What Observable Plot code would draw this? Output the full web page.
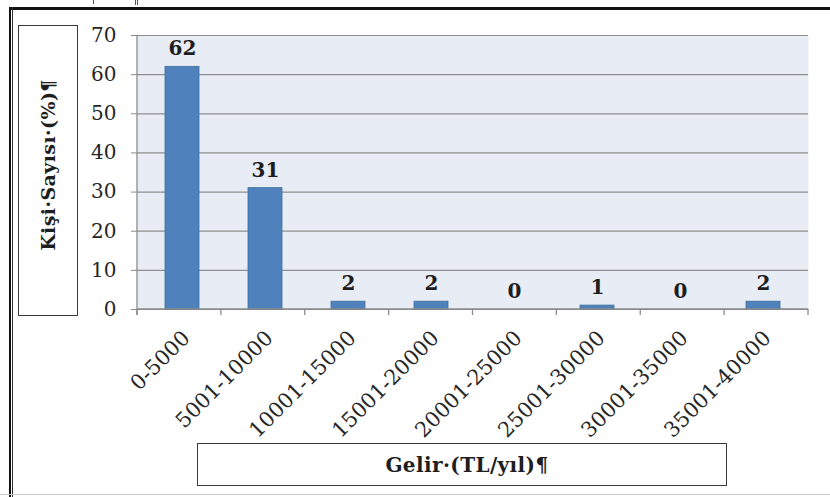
<!DOCTYPE html>
<html><head><meta charset="utf-8">
<script src="https://cdn.jsdelivr.net/npm/d3@7"></script>
<script src="https://cdn.jsdelivr.net/npm/@observablehq/plot@0.6"></script>
<style>
body{margin:0;background:#fff;}
#wrap{position:relative;width:830px;height:497px;overflow:hidden;font-family:"DejaVu Serif",serif;color:#1e1e1e;}
#wrap svg{position:absolute;left:0;top:0;}
.deco{position:absolute;}
.tbox{position:absolute;border:1.3px solid #3a3a3a;box-sizing:border-box;background:#fff;}
.ttext{position:absolute;white-space:nowrap;font-weight:bold;font-size:20px;letter-spacing:0.4px;}
</style></head>
<body><div id="wrap"></div>
<script>
const categories = ["0-5000","5001-10000","10001-15000","15001-20000","20001-25000","25001-30000","30001-35000","35001-40000"];
const values = [62,31,2,2,0,1,0,2];
const yTicks = [0,10,20,30,40,50,60,70];
const yTitle = "Kişi·Sayısı·(%)¶";
const xTitle = "Gelir·(TL/yıl)¶";

const data = categories.map((c,i)=>({cat:c,value:values[i]}));
const axisColor = "#8a8a8a";

function boundaryAxis(index, scales, vals, dims){
  const g = d3.create("svg:g").attr("stroke", axisColor).attr("stroke-width", 1.3).attr("fill","none");
  const left = dims.marginLeft, right = dims.width - dims.marginRight;
  const step = (right-left)/categories.length;
  const y0 = scales.y(0), yTop = scales.y(70);
  g.append("line").attr("x1",left).attr("x2",left).attr("y1",yTop).attr("y2",y0+6);
  g.append("line").attr("x1",left).attr("x2",right).attr("y1",y0).attr("y2",y0);
  for(let k=0;k<=categories.length;k++){
    const x = left + k*step;
    g.append("line").attr("x1",x).attr("x2",x).attr("y1",y0).attr("y2",y0+6);
  }
  return g.node();
}

const chart = Plot.plot({
  width:830, height:497,
  marginLeft:137, marginRight:22, marginTop:35, marginBottom:188,
  style:{fontFamily:"'DejaVu Serif', serif", background:"transparent", color:"#262626"},
  x:{domain:categories, paddingInner:0.59, paddingOuter:0.295, label:null},
  y:{domain:[0,70], label:null},
  marks:[
    Plot.frame({fill:"#e8ecf4", stroke:"none"}),
    Plot.gridY(yTicks,{stroke:"#8f8f8f", strokeOpacity:1, strokeWidth:1.2}),
    Plot.barY(data,{x:"cat", y:"value", fill:"#4f81bd", stroke:"#41719c", strokeWidth:0.8}),
    Plot.text(data,{x:"cat", y:"value", text:d=>String(d.value), dy:-18, fontWeight:"bold", fontSize:20, fill:"#1e1e1e"}),
    Plot.axisY(yTicks,{tickSize:6, tickPadding:15, fontSize:20, stroke:axisColor, fill:"#262626"}),
    Plot.axisX({tickSize:0, tickRotate:-45, fontSize:21, tickPadding:8, dx:4, dy:17, fill:"#262626"}),
    boundaryAxis
  ]
});

const wrap = document.getElementById("wrap");
wrap.appendChild(chart);

function deco(style){ const d=document.createElement("div"); d.className="deco"; Object.assign(d.style, style); wrap.appendChild(d); }
deco({left:"9px", top:"7px", width:"821px", height:"3px", background:"#111"});
deco({left:"9px", top:"7px", width:"2px", height:"490px", background:"#111"});
deco({left:"12px", top:"7px", width:"1px", height:"490px", background:"#333"});
deco({left:"0px", top:"494px", width:"830px", height:"1px", background:"#c8c8c8"});
deco({left:"93px", top:"0px", width:"1px", height:"4px", background:"#555"});
deco({left:"135px", top:"0px", width:"1px", height:"5px", background:"#555"});
deco({left:"137px", top:"0px", width:"1px", height:"5px", background:"#555"});

function titleBox(x,y,w,h,text,rot,cx,cy,fs){
  const b=document.createElement("div"); b.className="tbox";
  Object.assign(b.style,{left:x+"px",top:y+"px",width:w+"px",height:h+"px"});
  const t=document.createElement("div"); t.className="ttext"; t.textContent=text;
  t.style.left = cx+"px"; t.style.top = cy+"px"; t.style.fontSize = fs+"px";
  t.style.transform = rot ? "translate(-50%,-50%) rotate(-90deg)" : "translate(-50%,-50%)";
  b.appendChild(t); wrap.appendChild(b);
}
titleBox(18,25,60,291,yTitle,true,29,139,19);
titleBox(197,443,530,43,xTitle,false,269,21,20);
</script>
</body></html>
